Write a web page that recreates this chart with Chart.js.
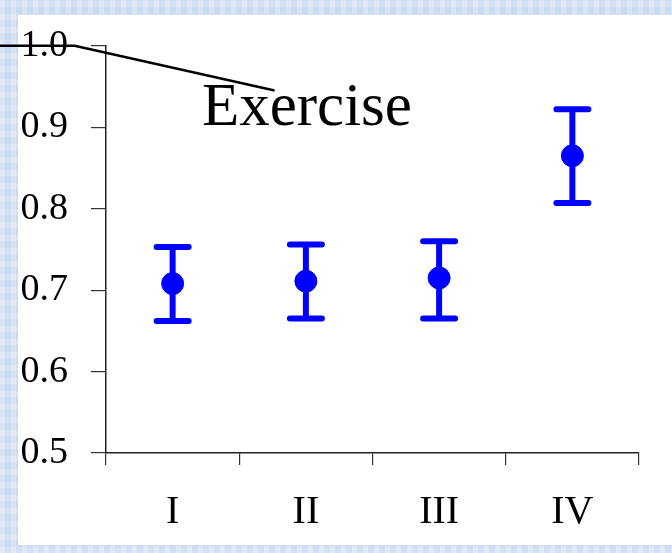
<!DOCTYPE html>
<html>
<head>
<meta charset="utf-8">
<script src="https://cdn.jsdelivr.net/npm/chart.js@4/dist/chart.umd.min.js"></script>
<style>
  html, body { margin: 0; padding: 0; }
  body {
    width: 672px; height: 553px; position: relative; overflow: hidden;
    background-color: #d2e1f4;
    background-image:
      repeating-linear-gradient(90deg, rgba(255,255,255,0.18) 0 5px, rgba(185,208,236,0.18) 5px 11px),
      repeating-linear-gradient(0deg, rgba(255,255,255,0.15) 0 6px, rgba(178,202,234,0.15) 6px 13px);
  }
  #panel { position: absolute; left: 18px; top: 15px; width: 654px; height: 530px; background: #fff; }
  #wrap { position: absolute; left: 0; top: 0; width: 672px; height: 553px; }
</style>
</head>
<body>
<div id="panel"></div>
<div id="wrap"><canvas id="chart" width="672" height="553"></canvas></div>
<script>
// Groups and measured ratio with its error range
const categories = ['I', 'II', 'III', 'IV'];
const means = [0.708, 0.711, 0.715, 0.865];
const upper = [0.753, 0.756, 0.760, 0.922];
const lower = [0.662, 0.665, 0.665, 0.807];
const yTicks = [0.5, 0.6, 0.7, 0.8, 0.9, 1.0];

// Callout: label text, its anchor and the leader line (x in category index, y in value)
const calloutText = 'Exercise';
const calloutAnchor = { x: 0.22, y: 0.9025 };
const calloutLine = [{ x: -0.735, y: 1.0 }, { x: 0.765, y: 0.945 }];

const BLUE = '#0000ff';
const SERIF = '"Liberation Serif", "Times New Roman", serif';

const errorBars = {
  id: 'errorBars',
  afterDatasetsDraw(chart) {
    const { ctx, scales: { x, y } } = chart;
    ctx.save();
    ctx.strokeStyle = BLUE;
    ctx.lineWidth = 6;
    ctx.lineCap = 'round';
    const half = 16;
    categories.forEach((c, i) => {
      const px = x.getPixelForValue(i);
      const top = y.getPixelForValue(upper[i]);
      const bot = y.getPixelForValue(lower[i]);
      ctx.beginPath();
      ctx.moveTo(px, top); ctx.lineTo(px, bot);
      ctx.moveTo(px - half, top); ctx.lineTo(px + half, top);
      ctx.moveTo(px - half, bot); ctx.lineTo(px + half, bot);
      ctx.stroke();
    });
    ctx.restore();
  }
};

const callout = {
  id: 'callout',
  afterDraw(chart) {
    const { ctx, scales: { x, y } } = chart;
    ctx.save();
    ctx.strokeStyle = '#000';
    ctx.lineWidth = 2.5;
    ctx.beginPath();
    ctx.moveTo(0, y.getPixelForValue(calloutLine[0].y));
    calloutLine.forEach(p => ctx.lineTo(x.getPixelForValue(p.x), y.getPixelForValue(p.y)));
    ctx.stroke();
    ctx.fillStyle = '#000';
    ctx.font = '61px ' + SERIF;
    ctx.textBaseline = 'alphabetic';
    ctx.fillText(calloutText, x.getPixelForValue(calloutAnchor.x), y.getPixelForValue(calloutAnchor.y));
    ctx.restore();
  }
};

new Chart(document.getElementById('chart'), {
  type: 'line',
  data: {
    labels: categories,
    datasets: [{
      data: means,
      showLine: false,
      pointRadius: 11,
      pointHoverRadius: 11,
      pointBackgroundColor: BLUE,
      pointBorderColor: BLUE,
      borderColor: BLUE
    }]
  },
  options: {
    responsive: false,
    animation: false,
    events: [],
    layout: { padding: { left: 0, right: 33, top: 43, bottom: 19 } },
    plugins: { legend: { display: false }, tooltip: { enabled: false } },
    scales: {
      x: {
        type: 'category',
        offset: true,
        afterFit(scale) { scale.height = 81; },
        grid: { offset: true, drawOnChartArea: false, drawTicks: true, tickLength: 12, color: '#333', lineWidth: 1.2 },
        border: { display: true, color: '#222', width: 1.5 },
        ticks: { color: '#000', font: { family: SERIF, size: 40 }, padding: 23, maxRotation: 0 }
      },
      y: {
        min: 0.5,
        max: 1.0,
        afterBuildTicks(scale) { scale.ticks = yTicks.map(v => ({ value: v })); },
        afterFit(scale) { scale.width = 106; },
        grid: { drawOnChartArea: false, drawTicks: true, tickLength: 15, color: '#333', lineWidth: 1.2 },
        border: { display: true, color: '#222', width: 1.5 },
        ticks: {
          color: '#000',
          font: { family: SERIF, size: 38 },
          padding: 23,
          callback: v => Number(v).toFixed(1)
        }
      }
    }
  },
  plugins: [errorBars, callout]
});
</script>
</body>
</html>
